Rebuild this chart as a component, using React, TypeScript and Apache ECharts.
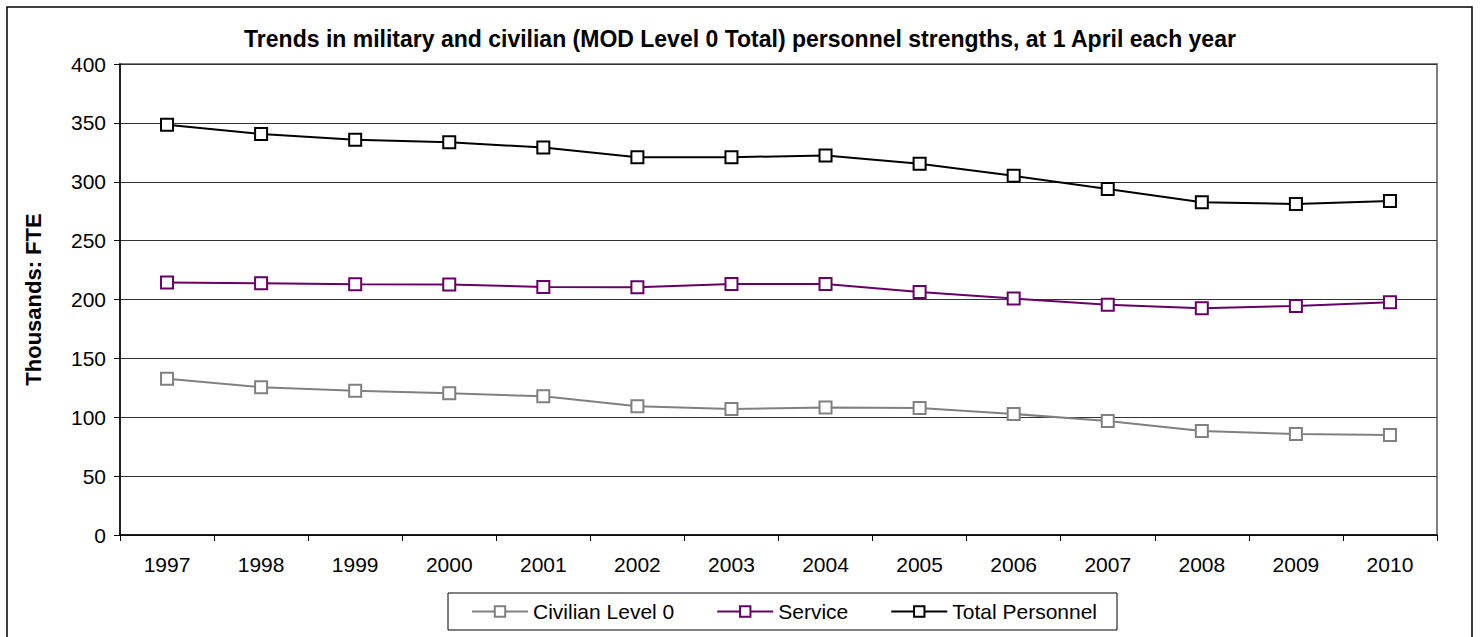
import React, { useEffect, useRef } from "react";
import * as echarts from "echarts";

const years = ["1997", "1998", "1999", "2000", "2001", "2002", "2003", "2004", "2005", "2006", "2007", "2008", "2009", "2010"];
const civilian = [132.6, 125.5, 122.4, 120.4, 117.8, 109.3, 107.0, 108.2, 107.9, 102.8, 96.8, 88.3, 85.8, 84.9];
const service = [214.4, 213.8, 213.0, 212.7, 210.7, 210.4, 213.2, 213.2, 206.4, 200.8, 195.6, 192.5, 194.5, 197.6];
const total = [348.4, 340.5, 335.6, 333.6, 329.0, 320.9, 320.9, 322.2, 315.2, 305.0, 293.9, 282.5, 281.1, 283.6];

const FONT = "'Liberation Sans', Arial, sans-serif";

export default function App() {
  const ref = useRef<HTMLDivElement>(null);
  useEffect(() => {
    if (!ref.current) return;
    const chart = echarts.init(ref.current, undefined, { renderer: "svg" });
    const mk = (name: string, data: number[], color: string) => ({
      name,
      type: "line",
      data,
      symbol: "emptyRect",
      symbolSize: 12,
      showSymbol: true,
      lineStyle: { color, width: 2 },
      itemStyle: { color, borderColor: color, borderWidth: 2 },
    });
    chart.setOption({
      animation: false,
      backgroundColor: "#ffffff",
      textStyle: { fontFamily: FONT },
      title: {
        text: "Trends in military and civilian (MOD Level 0 Total) personnel strengths, at 1 April each year",
        left: "center",
        top: 22,
        textStyle: { fontFamily: FONT, fontSize: 23, fontWeight: "bold", color: "#000" },
      },
      graphic: [
        {
          type: "rect",
          shape: { x: 7, y: 7, width: 1465, height: 650 },
          style: { fill: "none", stroke: "#000", lineWidth: 1.5 },
          silent: true,
          z: 100,
        },
      ],
      grid: {
        left: 120,
        top: 64,
        right: 43,
        bottom: 102,
        show: true,
        borderColor: "#808080",
        borderWidth: 2,
        backgroundColor: "#fff",
      },
      legend: {
        left: 448,
        top: 593,
        padding: [8, 20, 8, 23],
        itemWidth: 56,
        itemHeight: 13,
        itemGap: 42,
        borderColor: "#000",
        borderWidth: 1,
        textStyle: { fontFamily: FONT, fontSize: 21, color: "#000" },
        data: ["Civilian Level 0", "Service", "Total Personnel"],
      },
      xAxis: {
        type: "category",
        data: years,
        boundaryGap: true,
        axisLine: { lineStyle: { color: "#000", width: 1.5 } },
        axisTick: { show: true, length: 6, alignWithLabel: false, lineStyle: { color: "#000" } },
        axisLabel: { fontFamily: FONT, fontSize: 21, color: "#000", margin: 19 },
        splitLine: { show: false },
      },
      yAxis: {
        type: "value",
        min: 0,
        max: 400,
        interval: 50,
        name: "Thousands: FTE",
        nameLocation: "middle",
        nameRotate: 90,
        nameGap: 76,
        nameTextStyle: { fontFamily: FONT, fontSize: 22, fontWeight: "bold", color: "#000" },
        axisLine: { show: true, lineStyle: { color: "#000", width: 1.5 } },
        axisTick: { show: true, length: 6, lineStyle: { color: "#000" } },
        axisLabel: { fontFamily: FONT, fontSize: 21, color: "#000", margin: 14 },
        splitLine: { show: true, lineStyle: { color: "#333", width: 1 } },
      },
      series: [
        mk("Civilian Level 0", civilian, "#808080"),
        mk("Service", service, "#660066"),
        mk("Total Personnel", total, "#000000"),
      ],
    });
    return () => chart.dispose();
  }, []);
  return (
    <div
      ref={ref}
      style={{ position: "absolute", left: 0, top: 0, width: 1480, height: 637, background: "#fff" }}
    />
  );
}
